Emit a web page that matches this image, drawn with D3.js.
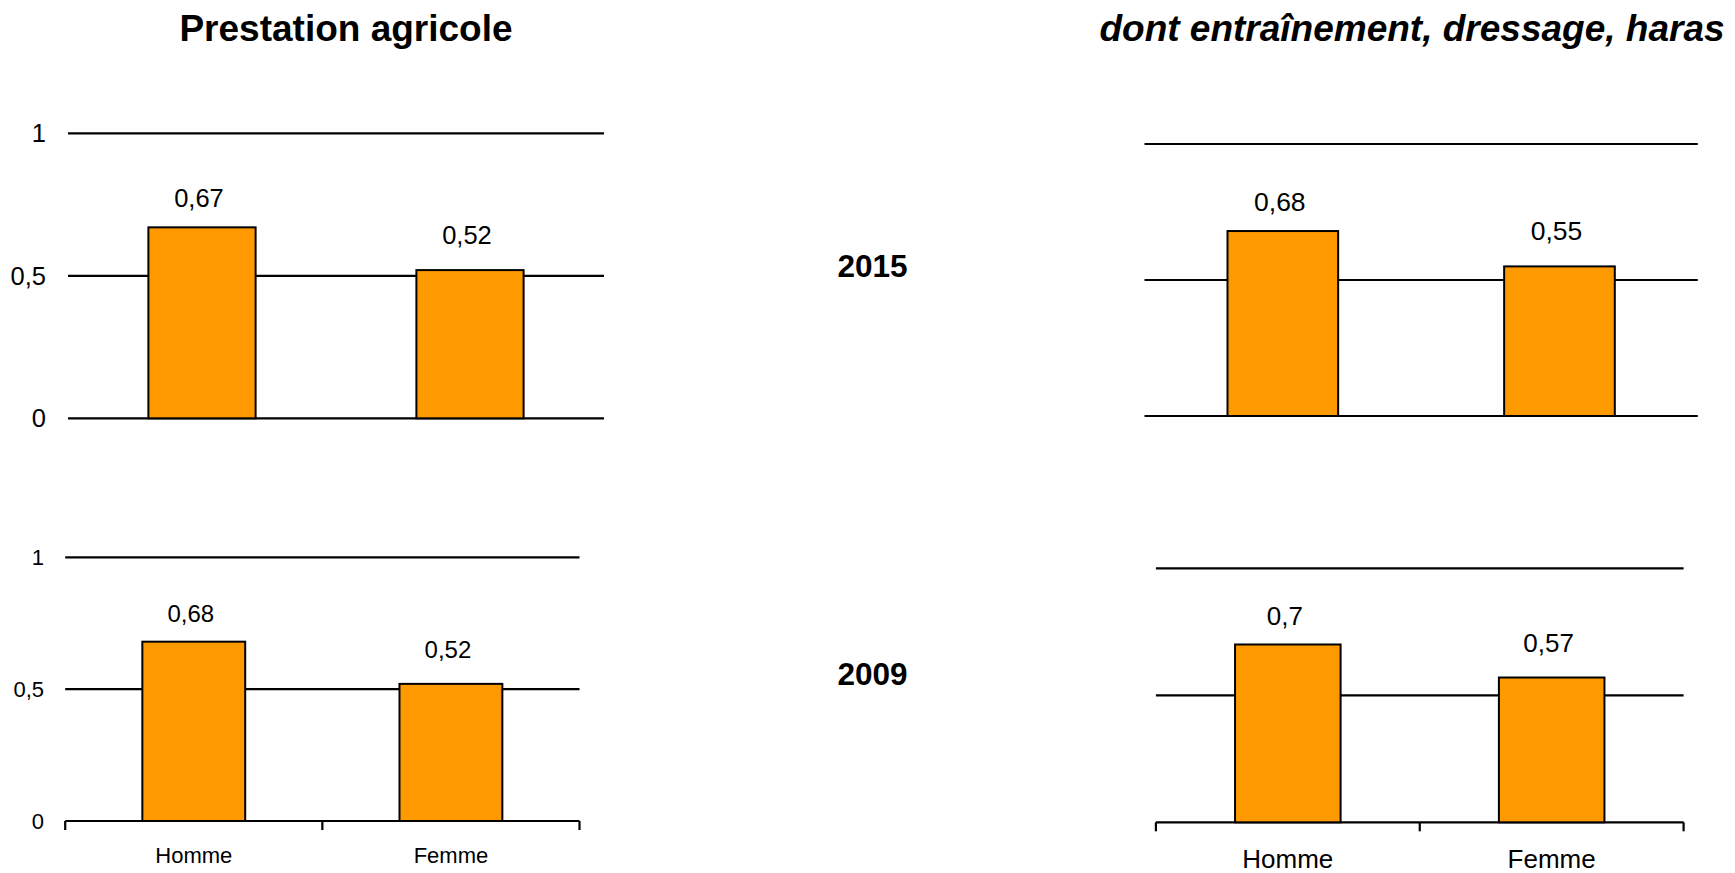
<!DOCTYPE html>
<html>
<head>
<meta charset="utf-8">
<script src="https://cdn.jsdelivr.net/npm/d3@7"></script>
<style>
  html, body { margin: 0; padding: 0; background: #fff; }
  svg { display: block; font-family: "Liberation Sans", Arial, sans-serif; }
</style>
</head>
<body>
<svg id="chart" width="1735" height="873"></svg>
<script>
// ---- data ----
const categories = ["Homme", "Femme"];
const prestation2015 = [0.67, 0.52];
const prestation2009 = [0.68, 0.52];
const entrainement2015 = [0.68, 0.55];
const entrainement2009 = [0.7, 0.57];
const yTicks = [0, 0.5, 1];
const yearLabels = ["2015", "2009"];
const titles = ["Prestation agricole", "dont entraînement, dressage, haras"];

// ---- layout / style ----
const svg = d3.select("#chart");
const fr = d3.formatLocale({decimal: ",", thousands: " ", grouping: [3], currency: ["", " €"]});
const fmt = fr.format("~g");
const barColor = "#FF9900";
const labelGap = {Homme: 20, Femme: 26};

const panels = [
  {values: prestation2015, x0: 68, x1: 604, y1: 133.3, y0: 418.3, yLabels: true, xTicks: false, valFont: 25.5, tickFont: 25.5, tickRight: 46, catFont: 0, catY: 0},
  {values: prestation2009, x0: 65.2, x1: 579.5, y1: 557.3, y0: 821, yLabels: true, xTicks: true, valFont: 24, tickFont: 22, tickRight: 44, catFont: 22, catY: 863},
  {values: entrainement2015, x0: 1144.5, x1: 1697.8, y1: 144, y0: 416, yLabels: false, xTicks: false, valFont: 26.5, tickFont: 0, tickRight: 0, catFont: 0, catY: 0},
  {values: entrainement2009, x0: 1155.9, x1: 1683.6, y1: 568.3, y0: 822.3, yLabels: false, xTicks: true, valFont: 26, tickFont: 0, tickRight: 0, catFont: 26, catY: 868}
];

panels.forEach(p => {
  const g = svg.append("g");
  const x = d3.scaleBand().domain(categories).range([p.x0, p.x1]).paddingInner(0.6).paddingOuter(0.3);
  const y = d3.scaleLinear().domain([0, 1]).range([p.y0, p.y1]);

  // gridlines
  g.selectAll("line.grid").data(yTicks).join("line")
    .attr("class", "grid")
    .attr("x1", p.x0).attr("x2", p.x1)
    .attr("y1", d => y(d)).attr("y2", d => y(d))
    .attr("stroke", "#000").attr("stroke-width", 2.2);

  // x ticks at band boundaries
  if (p.xTicks) {
    const bounds = d3.range(categories.length + 1).map(i => p.x0 + i * x.step());
    g.selectAll("line.xt").data(bounds).join("line")
      .attr("class", "xt")
      .attr("x1", d => d).attr("x2", d => d)
      .attr("y1", y(0)).attr("y2", y(0) + 9)
      .attr("stroke", "#000").attr("stroke-width", 2.2);
    g.selectAll("text.cat").data(categories).join("text")
      .attr("class", "cat")
      .attr("x", d => x(d) + x.bandwidth() / 2)
      .attr("y", p.catY)
      .attr("text-anchor", "middle")
      .attr("font-size", p.catFont)
      .text(d => d);
  }

  // y tick labels
  if (p.yLabels) {
    g.selectAll("text.yt").data(yTicks).join("text")
      .attr("class", "yt")
      .attr("x", p.tickRight)
      .attr("y", d => y(d))
      .attr("dy", "0.36em")
      .attr("text-anchor", "end")
      .attr("font-size", p.tickFont)
      .text(d => fmt(d));
  }

  const data = categories.map((c, i) => ({c, v: p.values[i]}));
  // bars
  g.selectAll("rect.bar").data(data).join("rect")
    .attr("class", "bar")
    .attr("x", d => x(d.c))
    .attr("width", x.bandwidth())
    .attr("y", d => y(d.v))
    .attr("height", d => y(0) - y(d.v))
    .attr("fill", barColor)
    .attr("stroke", "#000").attr("stroke-width", 2);

  // value labels
  g.selectAll("text.val").data(data).join("text")
    .attr("class", "val")
    .attr("x", d => x(d.c) + x.bandwidth() / 2 - 3)
    .attr("y", d => y(d.v) - labelGap[d.c])
    .attr("text-anchor", "middle")
    .attr("font-size", p.valFont)
    .text(d => fmt(d.v));
});

// titles
svg.append("text").attr("x", 346).attr("y", 40.5).attr("text-anchor", "middle")
  .attr("font-size", 37).attr("font-weight", "bold").text(titles[0]);
svg.append("text").attr("x", 1412).attr("y", 40.5).attr("text-anchor", "middle")
  .attr("font-size", 37).attr("font-weight", "bold").attr("font-style", "italic").text(titles[1]);

// year labels
svg.selectAll("text.year").data(yearLabels).join("text")
  .attr("class", "year")
  .attr("x", 872.5)
  .attr("y", (d, i) => [276.7, 685][i])
  .attr("text-anchor", "middle")
  .attr("font-size", 31.5).attr("font-weight", "bold")
  .text(d => d);
</script>
</body>
</html>
